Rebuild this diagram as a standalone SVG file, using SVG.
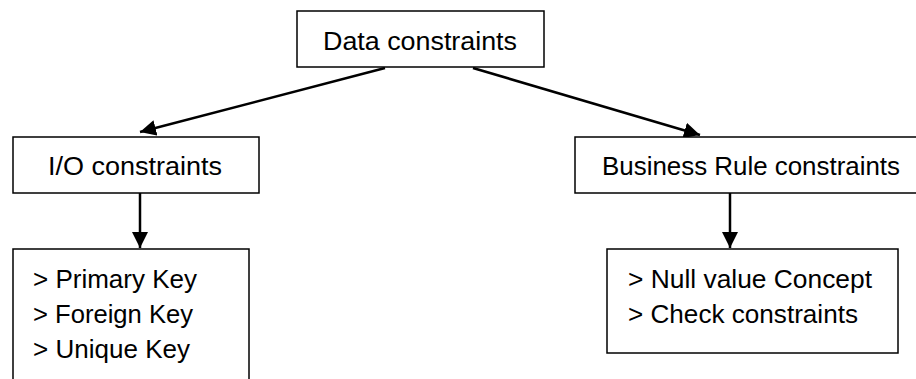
<svg xmlns="http://www.w3.org/2000/svg" width="916" height="379" viewBox="0 0 916 379">
  <style>
    .box { fill: #ffffff; stroke: #000000; stroke-width: 1.5; }
    .lbl { font-family: "Liberation Sans", Arial, sans-serif; font-size: 25px; fill: #000000; }
    .conn { stroke: #000000; stroke-width: 2.5; fill: none; }
  </style>
  <defs>
    <marker id="head" markerUnits="userSpaceOnUse" markerWidth="16" markerHeight="16" viewBox="0 0 16 16" refX="16" refY="8" orient="auto">
      <path d="M0,0 L16,8 L0,16 Z" fill="#000000"/>
    </marker>
  </defs>

  <g id="connectors">
    <line class="conn" x1="385" y1="68" x2="140" y2="132" marker-end="url(#head)"/>
    <line class="conn" x1="473" y1="68" x2="700" y2="135" marker-end="url(#head)"/>
    <line class="conn" x1="140" y1="193" x2="140" y2="248" marker-end="url(#head)"/>
    <line class="conn" x1="730" y1="193" x2="730" y2="248" marker-end="url(#head)"/>
  </g>

  <g id="data-constraints">
    <rect class="box" x="297" y="11" width="247" height="56"/>
    <text class="lbl" x="323" y="50" textLength="194" lengthAdjust="spacingAndGlyphs">Data constraints</text>
  </g>

  <g id="io-constraints">
    <rect class="box" x="13" y="137" width="246" height="56"/>
    <text class="lbl" x="48" y="175" textLength="174" lengthAdjust="spacingAndGlyphs">I/O constraints</text>
  </g>

  <g id="business-rule-constraints">
    <rect class="box" x="575" y="137" width="350" height="56"/>
    <text class="lbl" x="602" y="175" textLength="298" lengthAdjust="spacingAndGlyphs">Business Rule constraints</text>
  </g>

  <g id="key-list">
    <rect class="box" x="13" y="249" width="236" height="140"/>
    <text class="lbl" x="33" y="288" textLength="164" lengthAdjust="spacingAndGlyphs">&gt; Primary Key</text>
    <text class="lbl" x="33" y="323" textLength="160" lengthAdjust="spacingAndGlyphs">&gt; Foreign Key</text>
    <text class="lbl" x="33" y="358" textLength="157" lengthAdjust="spacingAndGlyphs">&gt; Unique Key</text>
  </g>

  <g id="rule-list">
    <rect class="box" x="607" y="249" width="291" height="104"/>
    <text class="lbl" x="628" y="288" textLength="244" lengthAdjust="spacingAndGlyphs">&gt; Null value Concept</text>
    <text class="lbl" x="628" y="323" textLength="230" lengthAdjust="spacingAndGlyphs">&gt; Check constraints</text>
  </g>
</svg>
